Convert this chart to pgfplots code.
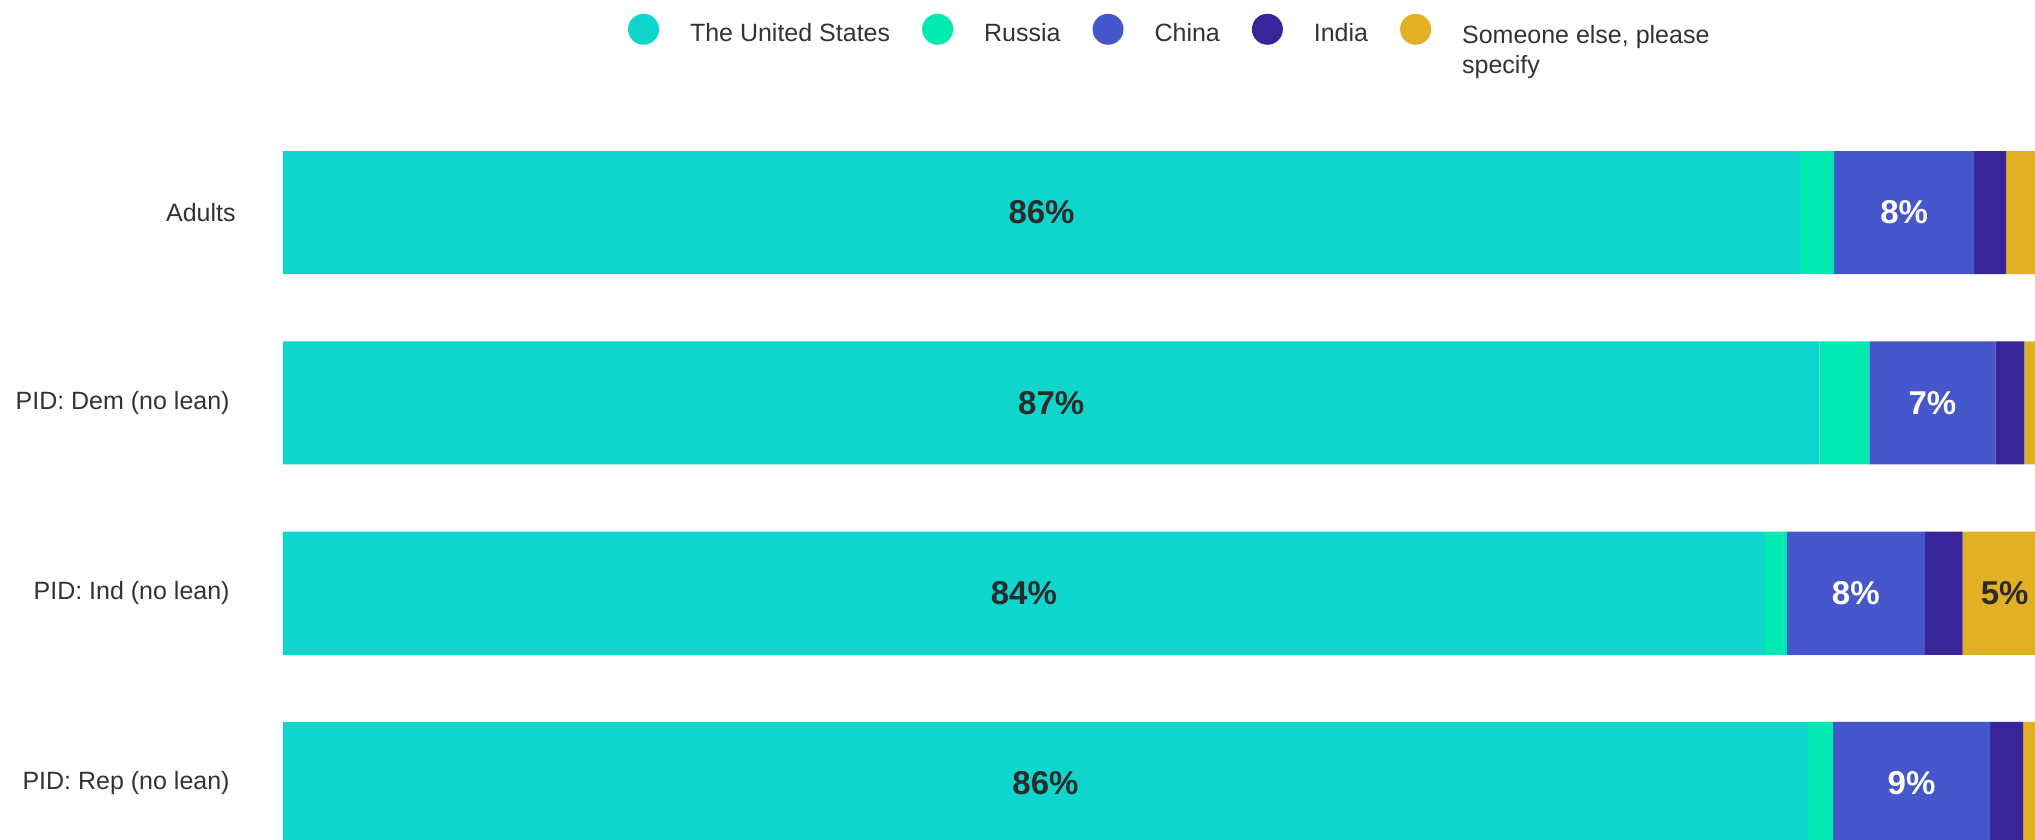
\documentclass[border=0pt]{standalone}
\usepackage{pgfplots}
\pgfplotsset{compat=1.18}
\usepackage{pgfplotstable}
\usepackage{fontspec}
\setmainfont{Liberation Sans}
\definecolor{cus}{HTML}{0FD6CD}
\definecolor{cru}{HTML}{02EAB2}
\definecolor{ccn}{HTML}{4657CC}
\definecolor{cin}{HTML}{39259A}
\definecolor{cel}{HTML}{E2B024}
\definecolor{txt}{HTML}{333333}
\definecolor{lab}{HTML}{2B2B2B}

\pgfplotstableread{
y us ru cn in el uslab cnlab ellab
0 86.0 1.93 7.94 1.81 2.32 86\% 8\% {}
1 87.1 2.83 7.14 1.64 1.30 87\% 7\% {}
2 84.0 1.25 7.82 2.15 4.76 84\% 8\% 5\%
3 86.45 1.42 8.90 1.87 1.36 86\% 9\% {}
}\datatable

\begin{document}
\begin{tikzpicture}
\begin{axis}[
  at={(141.5pt,0pt)}, anchor=south west,
  scale only axis, width=882pt, height=370pt,
  xbar stacked, bar width=0.647,
  xmin=0, xmax=100,
  ymin=-0.592, ymax=3.297, y dir=reverse,
  axis line style={draw=none},
  xtick=\empty, ytick={0,1,2,3},
  yticklabels={Adults\kern-3pt, PID: Dem (no lean), PID: Ind (no lean), PID: Rep (no lean)},
  major tick length=0pt,
  yticklabel style={font=\fontsize{12.5}{15}\selectfont, text=txt, inner sep=0pt, xshift=-26.5pt},
  legend columns=5,
  legend cell align=left,
  legend style={
    at={(0.1956,1.1165)}, anchor=north west,
    draw=none, fill=none, inner sep=0pt, outer sep=0pt,
    font=\fontsize{12.5}{15}\selectfont, text=txt,
    /tikz/every odd column/.append style={column sep=15.5pt},
    /tikz/every even column/.append style={column sep=16pt},
    nodes={inner sep=0pt},
  },
  legend image code/.code={\fill[#1] (7.75pt,0.25em) circle (7.75pt);},
]
\addplot[fill=cus, draw=none, nodes near coords, point meta=explicit symbolic,
  every node near coord/.style={anchor=center, font=\fontsize{16.5}{18}\selectfont\bfseries, text=lab}]
  table[x=us, y=y, meta=uslab] {\datatable};
\addlegendentry{The United States}
\addplot[fill=cru, draw=none] table[x=ru, y=y] {\datatable};
\addlegendentry{Russia}
\addplot[fill=ccn, draw=none, nodes near coords, point meta=explicit symbolic,
  every node near coord/.style={anchor=center, font=\fontsize{16.5}{18}\selectfont\bfseries, text=white}]
  table[x=cn, y=y, meta=cnlab] {\datatable};
\addlegendentry{China}
\addplot[fill=cin, draw=none] table[x=in, y=y] {\datatable};
\addlegendentry{India}
\addplot[fill=cel, draw=none, nodes near coords, point meta=explicit symbolic,
  every node near coord/.style={anchor=center, font=\fontsize{16.5}{18}\selectfont\bfseries, text=lab}]
  table[x=el, y=y, meta=ellab] {\datatable};
\addlegendentry{\raisebox{0pt}[\height][0pt]{\begin{tabular}[t]{@{}l@{}}Someone else, please\\specify\end{tabular}}}
\end{axis}
\pgfresetboundingbox
\useasboundingbox (0,0) rectangle (1017.5pt,420pt);
\end{tikzpicture}
\end{document}
